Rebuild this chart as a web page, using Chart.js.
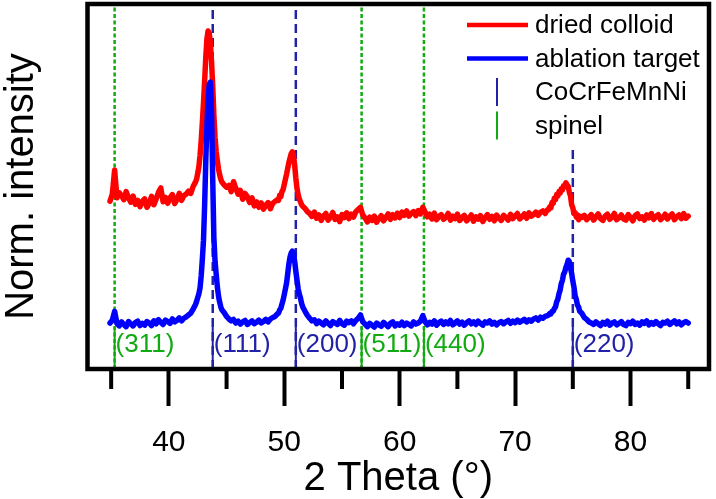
<!DOCTYPE html>
<html lang="en">
<head>
<meta charset="UTF-8">
<title>XRD patterns</title>
<script src="https://cdn.jsdelivr.net/npm/chart.js"></script>
<style>
  html, body { margin: 0; padding: 0; background: #fff; }
  #xrd { display: block; }
</style>
</head>
<body>
<canvas id="xrd" width="716" height="499"></canvas>
<script>
// 2 theta (deg), shared by both patterns
const theta = [
  34.9, 35.1, 35.3, 35.5, 35.7, 35.9, 36.1, 36.3, 36.5, 36.7,
  36.9, 37.1, 37.3, 37.5, 37.7, 37.9, 38.1, 38.3, 38.5, 38.7,
  38.9, 39.1, 39.3, 39.5, 39.7, 39.9, 40.1, 40.3, 40.5, 40.7,
  40.9, 41.1, 41.3, 41.5, 41.7, 41.9, 42.1, 42.3,
  42.4, 42.5, 42.6, 42.7, 42.8, 42.9, 43.0, 43.1, 43.2, 43.3,
  43.4, 43.5, 43.6, 43.7, 43.8, 43.9, 44.0, 44.1, 44.2, 44.3,
  44.4, 44.5, 44.6,
  44.8, 45.0, 45.2, 45.4, 45.6, 45.8, 46.0, 46.2, 46.4, 46.6,
  46.8, 47.0, 47.2, 47.4, 47.6, 47.8, 48.0, 48.2, 48.4, 48.6,
  48.8, 49.0, 49.2, 49.4,
  49.5, 49.6, 49.7, 49.8, 49.9, 50.0, 50.1, 50.2, 50.3, 50.4,
  50.5, 50.6, 50.7, 50.8, 50.9, 51.0, 51.1, 51.2, 51.3, 51.4,
  51.5, 51.6,
  51.8, 52.0, 52.2, 52.4, 52.6, 52.8, 53.0, 53.2, 53.4, 53.6,
  53.8, 54.0, 54.2, 54.4, 54.6, 54.8, 55.0, 55.2, 55.4, 55.6,
  55.8, 56.0, 56.2, 56.4, 56.6, 56.8, 57.0, 57.2, 57.4, 57.6,
  57.8, 58.0, 58.2, 58.4, 58.6, 58.8, 59.0, 59.2, 59.4, 59.6,
  59.8, 60.0, 60.2, 60.4, 60.6, 60.8, 61.0, 61.2, 61.4, 61.6,
  61.8, 62.0, 62.2, 62.4, 62.6, 62.8, 63.0, 63.2, 63.4, 63.6,
  63.8, 64.0, 64.2, 64.4, 64.6, 64.8, 65.0, 65.2, 65.4, 65.6,
  65.8, 66.0, 66.2, 66.4, 66.6, 66.8, 67.0, 67.2, 67.4, 67.6,
  67.8, 68.0, 68.2, 68.4, 68.6, 68.8, 69.0, 69.2, 69.4, 69.6,
  69.8, 70.0, 70.2, 70.4, 70.6, 70.8, 71.0, 71.2, 71.4, 71.6,
  71.8, 72.0, 72.2, 72.4, 72.6, 72.8,
  72.9, 73.0, 73.1, 73.2, 73.3, 73.4, 73.5, 73.6, 73.7, 73.8,
  73.9, 74.0, 74.1, 74.2, 74.3, 74.4, 74.5, 74.6, 74.7, 74.8,
  74.9, 75.0, 75.1, 75.2, 75.3, 75.4, 75.5, 75.6,
  75.8, 76.0, 76.2, 76.4, 76.6, 76.8, 77.0, 77.2, 77.4, 77.6,
  77.8, 78.0, 78.2, 78.4, 78.6, 78.8, 79.0, 79.2, 79.4, 79.6,
  79.8, 80.0, 80.2, 80.4, 80.6, 80.8, 81.0, 81.2, 81.4, 81.6,
  81.8, 82.0, 82.2, 82.4, 82.6, 82.8, 83.0, 83.2, 83.4, 83.6,
  83.8, 84.0, 84.2, 84.4, 84.6, 84.8, 85.0
];

// dried colloid (offset upward)
const driedColloid = [
  46.0, 47.9, 54.5, 46.9, 48.3, 47.5, 46.4, 48.6, 46.9, 45.7,
  47.4, 45.1, 46.2, 44.5, 45.9, 46.6, 44.3, 45.4, 47.3, 45.0,
  46.6, 48.4, 49.6, 45.8, 47.0, 45.4, 46.9, 47.8, 45.3, 46.4,
  48.1, 46.2, 47.5, 47.9, 48.7, 48.1, 50.0, 51.2,
  52.0, 53.6, 55.4, 58.5, 62.5, 67.5, 73.0, 79.0, 85.5, 90.5,
  92.6, 92.0, 89.0, 84.0, 77.5, 69.5, 63.5, 59.5, 57.0, 54.8,
  53.2, 52.0, 51.2,
  50.4, 49.8, 50.3, 48.6, 51.3, 49.5, 47.9, 48.9, 46.5, 48.1,
  47.2, 45.6, 46.9, 44.7, 45.8, 44.3, 45.5, 43.8, 44.9, 45.6,
  43.9, 45.4, 45.9, 46.4,
  46.2, 47.6, 47.2, 48.6, 49.2, 50.6, 52.0, 53.4, 55.0, 56.6,
  57.8, 59.0, 59.5, 58.3, 55.8, 52.3, 49.5, 47.8, 46.6, 45.8,
  45.0, 44.6,
  44.0, 43.1, 42.6, 41.8, 43.0, 41.3, 42.2, 40.7, 41.9, 42.6,
  40.8, 41.6, 42.9, 41.0, 41.7, 40.4, 42.3, 41.5, 42.8, 41.2,
  42.4, 41.6, 43.1, 43.7, 44.3, 42.2, 41.4, 40.3, 41.6, 40.7,
  41.9, 40.2, 41.2, 42.0, 40.6, 41.5, 42.5, 41.0, 42.3, 41.4,
  42.7, 41.5, 43.0, 42.1, 43.3, 41.9, 42.6, 43.1, 42.0, 43.4,
  42.5, 44.3, 43.0, 41.7, 42.4, 41.1, 42.7, 40.9, 41.8, 42.3,
  41.0, 41.6, 42.6, 40.8, 41.9, 41.2, 42.4, 40.7, 41.5, 42.1,
  40.6, 41.3, 42.2, 40.5, 41.7, 41.1, 42.0, 40.4, 41.4, 42.3,
  41.0, 41.8, 40.6, 42.2, 41.3, 40.7, 42.1, 41.5, 40.8, 42.4,
  41.2, 41.9, 42.6, 41.1, 41.7, 42.5, 41.3, 42.8, 41.9, 42.3,
  43.0, 42.1, 42.9, 43.3, 42.6, 43.6,
  43.6, 44.4, 44.2, 45.6, 45.4, 46.8, 46.4, 47.8, 47.4, 48.6,
  48.2, 49.4, 49.0, 50.2, 50.0, 51.0, 50.4, 50.0, 48.4, 47.4,
  45.0, 44.2, 42.6, 42.8, 41.6, 42.2, 40.9, 41.9,
  41.5, 42.1, 40.9, 41.6, 42.3, 40.8, 41.7, 42.5, 41.2, 40.7,
  41.9, 42.4, 41.0, 41.6, 42.6, 40.9, 41.4, 42.2, 41.1, 40.8,
  42.3, 41.5, 40.6, 42.0, 42.5, 41.2, 41.7, 40.8, 42.2, 41.4,
  42.6, 41.0, 41.8, 42.3, 40.9, 41.5, 42.4, 41.1, 41.9, 42.5,
  40.9, 41.7, 42.2, 41.2, 42.6, 41.3, 41.9
];

// ablation target
const ablationTarget = [
  12.6, 13.4, 15.8, 12.5, 11.8, 12.9, 12.2, 11.6, 13.0, 12.4,
  11.8, 12.7, 13.1, 11.9, 12.5, 12.0, 13.0, 12.6, 11.9, 13.2,
  12.4, 13.5, 12.8, 12.2, 13.4, 13.0, 12.5, 13.7, 12.9, 13.3,
  14.0, 13.2, 13.9, 14.3, 14.8, 15.3, 16.4, 17.6,
  18.5, 19.6, 20.6, 22.2, 25.5, 30.0, 35.3, 45.0, 57.3, 67.0,
  74.0, 78.0, 78.6, 70.0, 52.0, 36.0, 29.5, 26.0, 22.5, 20.0,
  18.3, 17.0, 16.2,
  15.4, 14.4, 13.7, 13.2, 13.6, 12.6, 13.1, 12.3, 12.9, 13.3,
  12.2, 12.7, 13.2, 12.4, 12.8, 13.4, 12.6, 13.0, 13.6, 12.9,
  13.7, 14.1, 14.4, 15.1,
  15.3, 16.2, 16.6, 17.8, 18.9, 20.4, 22.0, 23.6, 26.2, 28.8,
  30.7, 31.8, 32.3, 31.8, 29.5, 26.8, 24.4, 22.0, 20.5, 19.5,
  18.0, 17.0,
  15.8, 14.7, 13.9, 13.2, 13.5, 12.4, 13.1, 12.6, 12.1, 13.2,
  12.5, 11.9, 13.0, 12.6, 12.2, 13.3, 12.4, 12.0, 13.1, 12.7,
  13.2, 12.4, 13.3, 13.9, 14.8, 13.0, 12.3, 11.6, 12.5, 12.0,
  11.5, 12.6, 12.1, 11.7, 12.8, 12.2, 11.6, 12.5, 12.9, 11.8,
  12.4, 12.0, 12.8, 11.9, 12.6, 12.2, 11.8, 12.9, 12.3, 12.6,
  13.1, 14.6, 13.0, 12.1, 12.8, 12.3, 13.2, 12.0, 12.7, 13.1,
  12.2, 12.9, 12.4, 13.3, 12.1, 12.6, 13.2, 12.3, 12.8, 12.0,
  12.7, 13.2, 12.4, 12.9, 12.2, 13.1, 12.5, 12.0, 12.9, 12.6,
  13.2, 12.3, 12.8, 12.1, 12.7, 13.0, 12.4, 12.9, 13.3, 12.5,
  13.1, 12.7, 13.4, 12.8, 13.2, 13.6, 12.9, 13.5, 13.1, 13.7,
  14.0, 13.4, 14.2, 13.9, 14.4, 14.6,
  14.8, 15.2, 15.1, 15.8, 15.8, 16.6, 17.0, 18.4, 19.1, 20.6,
  21.6, 23.4, 24.3, 26.0, 26.6, 27.8, 28.6, 29.8, 29.4, 27.6,
  26.2, 24.1, 22.4, 20.1, 19.1, 17.5, 17.0, 15.8,
  15.2, 14.1, 13.6, 12.9, 12.6, 12.2, 12.9, 12.4, 11.9, 12.8,
  12.3, 13.1, 12.0, 12.6, 12.9, 12.1, 12.5, 13.0, 12.2, 11.9,
  12.8, 12.4, 13.1, 12.2, 12.6, 12.0, 12.9, 12.5, 13.2, 12.1,
  12.7, 12.3, 13.0, 12.4, 11.9, 12.8, 12.6, 13.1, 12.2, 12.7,
  13.2, 12.4, 12.9, 12.1, 12.7, 13.0, 12.6
];

// reference reflections
const fccPeaks = [43.8, 51.0, 75.0];
const fccLabels = ['(111)', '(200)', '(220)'];
const spinelPeaks = [35.3, 56.7, 62.1];
const spinelLabels = ['(311)', '(511)', '(440)'];

// axis ticks
const xMajorTicks = [40, 50, 60, 70, 80];
const xMinorTicks = [35, 45, 55, 65, 75, 85];

const RED = '#ff0000';
const BLUE = '#0000ff';
const NAVY = '#2222a8';
const GREEN = '#11aa11';
const FONT = "'Liberation Sans', Arial, sans-serif";
const STICK_TOP = 11.5;

Chart.defaults.font.family = FONT;
Chart.defaults.color = '#000';

function pts(ys) {
  return theta.map((t, i) => ({ x: t, y: ys[i] }));
}

const curve = { borderWidth: 5.5, borderJoinStyle: 'round', borderCapStyle: 'round' };
const datasets = [
  { ...curve, label: 'ablation target', data: pts(ablationTarget), borderColor: BLUE, order: 0 },
  { ...curve, label: 'dried colloid', data: pts(driedColloid), borderColor: RED, order: 1 }
];
fccPeaks.forEach(p => {
  datasets.push({ data: [{ x: p, y: 0 }, { x: p, y: 100 }], borderColor: NAVY, borderWidth: 2.5, borderDash: [9, 5], order: 3 });
  datasets.push({ data: [{ x: p, y: 0 }, { x: p, y: STICK_TOP }], borderColor: NAVY, borderWidth: 2, order: 2 });
});
spinelPeaks.forEach(p => {
  datasets.push({ data: [{ x: p, y: 0 }, { x: p, y: 100 }], borderColor: GREEN, borderWidth: 2.5, borderDash: [4, 2.5], order: 3 });
  datasets.push({ data: [{ x: p, y: 0 }, { x: p, y: STICK_TOP }], borderColor: GREEN, borderWidth: 2, order: 2 });
});

// frame, minor ticks, peak labels and legend
const decor = {
  id: 'decor',
  afterDatasetsDraw(chart) {
    const { ctx, chartArea: a, scales: { x, y } } = chart;
    ctx.save();
    // peak labels
    ctx.font = '26px ' + FONT;
    ctx.textBaseline = 'middle';
    ctx.textAlign = 'left';
    const ly = y.getPixelForValue(6.6);
    fccPeaks.forEach((p, i) => { ctx.fillStyle = NAVY; ctx.fillText(fccLabels[i], x.getPixelForValue(p) + 1, ly); });
    spinelPeaks.forEach((p, i) => { ctx.fillStyle = GREEN; ctx.fillText(spinelLabels[i], x.getPixelForValue(p) + 1, ly); });

    // legend box
    const lx = a.right - 242;
    ctx.fillStyle = '#fff';
    ctx.fillRect(lx - 8, a.top + 2, a.right - lx + 6, 144);
    const rows = [
      { text: 'dried colloid', color: RED, kind: 'line' },
      { text: 'ablation target', color: BLUE, kind: 'line' },
      { text: 'CoCrFeMnNi', color: NAVY, kind: 'stick' },
      { text: 'spinel', color: GREEN, kind: 'stick' }
    ];
    rows.forEach((r, i) => {
      const cy = a.top + 21 + i * 33.5;
      ctx.strokeStyle = r.color;
      ctx.beginPath();
      if (r.kind === 'line') {
        ctx.lineWidth = 4.5;
        ctx.moveTo(lx, cy); ctx.lineTo(lx + 61, cy);
      } else {
        ctx.lineWidth = 2;
        ctx.moveTo(lx + 30, cy - 14); ctx.lineTo(lx + 30, cy + 14);
      }
      ctx.stroke();
      ctx.fillStyle = '#000';
      ctx.font = '26px ' + FONT;
      ctx.fillText(r.text, lx + 68, cy + 1);
    });
    ctx.restore();
  },
  afterDraw(chart) {
    const { ctx, chartArea: a, scales: { x } } = chart;
    ctx.save();
    ctx.strokeStyle = '#000';
    ctx.lineWidth = 4;
    xMinorTicks.forEach(v => {
      const px = x.getPixelForValue(v);
      ctx.beginPath(); ctx.moveTo(px, a.bottom); ctx.lineTo(px, a.bottom + 20); ctx.stroke();
    });
    ctx.lineWidth = 4.5;
    ctx.strokeRect(a.left, a.top, a.right - a.left, a.bottom - a.top);
    ctx.restore();
  }
};

new Chart(document.getElementById('xrd'), {
  type: 'line',
  data: { datasets },
  options: {
    responsive: false,
    animation: false,
    elements: { point: { radius: 0 }, line: { tension: 0 } },
    layout: { padding: { left: 0, top: 4, right: 7, bottom: 0 } },
    plugins: { legend: { display: false }, tooltip: { enabled: false } },
    scales: {
      x: {
        type: 'linear',
        min: 32.95,
        max: 86.8,
        afterBuildTicks: s => { s.ticks = xMajorTicks.map(v => ({ value: v })); },
        afterFit: s => { s.height = 130; },
        ticks: { font: { size: 30 }, color: '#000', padding: 19, maxRotation: 0 },
        grid: { drawOnChartArea: false, tickLength: 37, tickWidth: 4, tickColor: '#000' },
        border: { display: false },
        title: { display: true, text: '2 Theta (°)', font: { size: 40, lineHeight: 1 }, padding: { top: 0, bottom: 0 }, color: '#000' }
      },
      y: {
        type: 'linear',
        min: 0,
        max: 100,
        afterFit: s => { s.width = 87.5; },
        ticks: { display: false },
        grid: { display: false },
        border: { display: false },
        title: { display: true, text: 'Norm. intensity', font: { size: 40, lineHeight: 1 }, padding: { top: 2, bottom: 0 }, color: '#000' }
      }
    }
  },
  plugins: [decor]
});
</script>
</body>
</html>
